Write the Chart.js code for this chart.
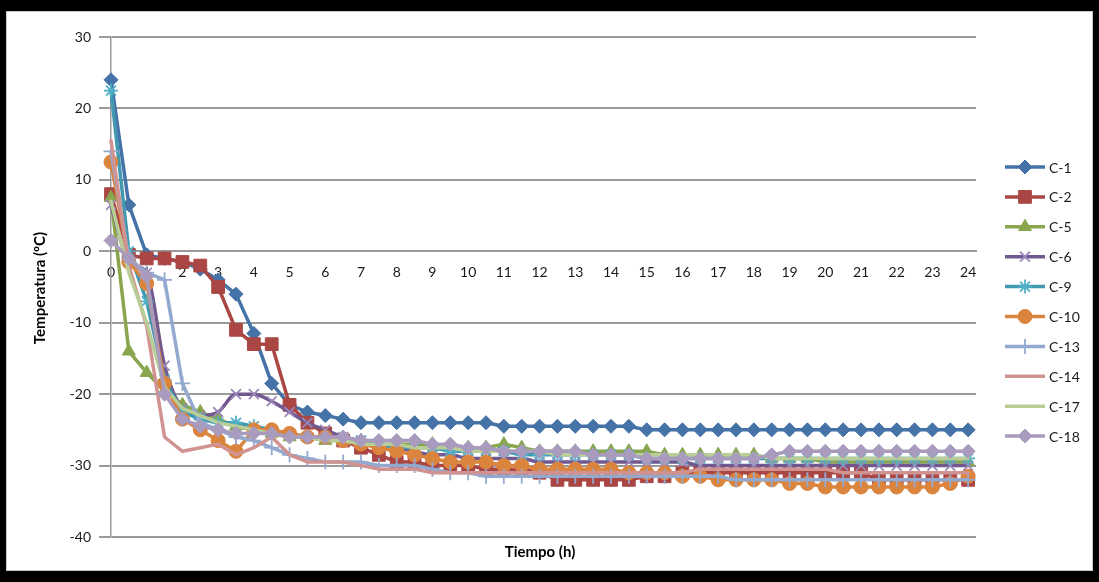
<!DOCTYPE html>
<html>
<head>
<meta charset="utf-8">
<script src="https://cdn.jsdelivr.net/npm/chart.js"></script>
<style>
  html, body { margin: 0; padding: 0; background: #000; }
  #wrap { position: absolute; left: 0; top: 0; width: 1099px; height: 582px; }
</style>
</head>
<body>
<div id="wrap"><canvas id="c" width="1099" height="582"></canvas></div>
<script>
// Time (h)
const times = [0,0.5,1,1.5,2,2.5,3,3.5,4,4.5,5,5.5,6,6.5,7,7.5,8,8.5,9,9.5,10,10.5,11,11.5,12,12.5,13,13.5,14,14.5,15,15.5,16,16.5,17,17.5,18,18.5,19,19.5,20,20.5,21,21.5,22,22.5,23,23.5,24];
const xTickLabels = [0,1,2,3,4,5,6,7,8,9,10,11,12,13,14,15,16,17,18,19,20,21,22,23,24];
const yTickLabels = [30,20,10,0,-10,-20,-30,-40];
const seriesNames = ['C-1','C-2','C-5','C-6','C-9','C-10','C-13','C-14','C-17','C-18'];

const c1  = [24,6.5,-0.5,-1,-1.5,-2.5,-4,-6,-11.5,-18.5,-21.5,-22.5,-23,-23.5,-24,-24,-24,-24,-24,-24,-24,-24,-24.5,-24.5,-24.5,-24.5,-24.5,-24.5,-24.5,-24.5,-25,-25,-25,-25,-25,-25,-25,-25,-25,-25,-25,-25,-25,-25,-25,-25,-25,-25,-25];
const c2  = [8,-0.5,-1,-1,-1.5,-2,-5,-11,-13,-13,-21.5,-24,-25.5,-26.5,-27.5,-28.5,-29.5,-29.5,-30,-30,-30,-30.5,-30.5,-30.5,-31,-32,-32,-32,-32,-32,-31.5,-31.5,-31,-31,-31,-31,-31,-31,-31,-31,-31,-31,-31,-32,-32,-32,-32,-32,-32];
const c5  = [7.5,-14,-17,-19.5,-21.5,-22.5,-23.5,-24.5,-25,-25.5,-26,-26,-26.5,-26.5,-26.5,-27,-27,-27,-27,-27.5,-27.5,-27.5,-27,-27.5,-28,-28,-28,-28,-28,-28,-28,-28.5,-28.5,-28.5,-28.5,-28.5,-28.5,-29,-29,-29,-29.5,-29.5,-29.5,-29.5,-29.5,-29.5,-29.5,-29.5,-29.5];
const c6  = [6.5,-1.5,-3,-16,-22,-23,-22.5,-20,-20,-21,-22.5,-24,-25,-26,-26.5,-27,-27.5,-28,-28.5,-28.5,-29,-29,-29,-29,-29.5,-29.5,-29.5,-29.5,-29.5,-29.5,-29.5,-29.5,-29.5,-30,-30,-30,-30,-30,-30,-30,-30,-30,-30,-30,-30,-30,-30,-30,-30];
const c9  = [22.5,0,-7,-18,-22.5,-23.5,-24,-24,-24.5,-25,-25.5,-26,-26,-26.5,-26.5,-27,-27.5,-27.5,-27.5,-28,-28,-28,-28,-28.5,-28.5,-28.5,-28.5,-28.5,-28.5,-28.5,-29,-29,-29,-29,-29,-29,-29,-29,-29,-29,-29,-29,-29,-29,-29,-29,-29,-29,-29];
const c10 = [12.5,-1.5,-4.5,-18.5,-23.5,-25,-26.5,-28,-25,-25,-25.5,-26,-26,-26.5,-27,-27.5,-28,-28.5,-29,-29.5,-29.5,-29.5,-30,-30,-30.5,-30.5,-30.5,-30.5,-30.5,-31,-31,-31,-31.5,-31.5,-32,-32,-32,-32,-32.5,-32.5,-33,-33,-33,-33,-33,-33,-33,-32.5,-31.5];
const c13 = [14,-1,-3,-4,-18.5,-24,-25,-26,-26.5,-27.5,-28.5,-29,-29.5,-29.5,-29.5,-30,-30,-30,-30.5,-31,-31,-31.5,-31.5,-31.5,-31.5,-31.5,-31.5,-31.5,-31.5,-31.5,-31.5,-31.5,-31.5,-31.5,-31.5,-32,-32,-32,-32,-32,-32,-32,-32,-32,-32,-32,-32,-32,-32];
const c14 = [15.5,-2,-10.5,-26,-28,-27.5,-27,-28.5,-27.5,-26,-28.5,-29.5,-29.5,-29.5,-30,-30.5,-30.5,-30.5,-31,-31,-31,-31,-31,-31,-31,-31,-31,-31,-31,-31,-31,-31,-31,-30.5,-30.5,-30.5,-30.5,-30.5,-30.5,-30.5,-30.5,-31,-31,-31,-31,-31,-31,-31,-31];
const c17 = [7,-3,-10,-19,-22,-23,-24,-24.5,-25,-25.5,-26,-26,-26.5,-26.5,-27,-27,-27,-27.5,-27.5,-27.5,-28,-28,-28,-28,-28,-28.5,-28.5,-28.5,-28.5,-28.5,-28.5,-28.5,-28.5,-28.5,-28.5,-28.5,-28.5,-29,-29,-29,-29,-29,-29,-29,-29,-29,-29,-29,-29];
const c18 = [1.5,-1,-3.5,-20,-23.5,-24.5,-25,-25.5,-25.5,-25.5,-26,-26,-26,-26,-26.5,-26.5,-26.5,-26.5,-27,-27,-27.5,-27.5,-28,-28,-28,-28,-28,-28.5,-28.5,-28.5,-29,-29,-29,-29,-29,-29,-29,-28.5,-28,-28,-28,-28,-28,-28,-28,-28,-28,-28,-28];

const seriesValues = [c1,c2,c5,c6,c9,c10,c13,c14,c17,c18];
const colors = ['#4572A7','#AA4643','#89A54E','#71588F','#4198AF','#DB843D','#93A9CF','#D19392','#B9CD96','#A99BBD'];
const pointColors = ['#4572A7','#AA4643','#89A54E','#9a88b8','#4fb0c8','#DB843D','#93A9CF','#D19392','#B9CD96','#A99BBD'];
const styles = ['rectRot','rect','triangle','crossRot','star','circle','cross','circle','circle','rectRot'];
const radii = [7,9,7.5,7,7,7,7.5,0,0,7];

const FONT = 'Lato, "Open Sans", "DejaVu Sans", sans-serif';

const datasets = seriesNames.map((name, i) => ({
  label: name,
  data: times.map((t, k) => ({x: t, y: seriesValues[i][k]})),
  borderColor: colors[i],
  backgroundColor: pointColors[i],
  pointBackgroundColor: pointColors[i],
  pointBorderColor: pointColors[i],
  pointBorderWidth: (styles[i] === 'crossRot' || styles[i] === 'star' || styles[i] === 'cross') ? 1.8 : 1,
  borderWidth: 3.5,
  pointStyle: styles[i],
  pointRadius: radii[i],
  tension: 0,
  cubicInterpolationMode: i === 3 ? 'monotone' : 'default',
  clip: false,
  order: -i
}));

const framePlugin = {
  id: 'frame',
  beforeDraw(chart) {
    const ctx = chart.ctx;
    ctx.save();
    ctx.fillStyle = '#000';
    ctx.fillRect(0, 0, 1099, 582);
    ctx.fillStyle = '#fff';
    ctx.fillRect(6, 11, 1087, 560);
    ctx.strokeStyle = '#c8c8c8';
    ctx.lineWidth = 1;
    ctx.strokeRect(6.5, 11.5, 1086, 559);
    ctx.restore();
  }
};

const extrasPlugin = {
  id: 'extras',
  afterDraw(chart) {
    const ctx = chart.ctx;
    ctx.save();
    ctx.fillStyle = '#000';
    ctx.font = 'bold 15px ' + FONT;
    ctx.textAlign = 'center';
    ctx.textBaseline = 'middle';
    ctx.fillText('Tiempo (h)', 540, 552);
    ctx.save();
    ctx.translate(40, 288);
    ctx.rotate(-Math.PI / 2);
    ctx.fillText('Temperatura (ºC)', 0, 0);
    ctx.restore();
    const dp = Chart.helpers && Chart.helpers.drawPoint;
    chart.data.datasets.forEach((ds, i) => {
      const y = 167 + i * 29.9;
      ctx.strokeStyle = ds.borderColor;
      ctx.lineWidth = 3.5;
      ctx.beginPath();
      ctx.moveTo(1005, y);
      ctx.lineTo(1045, y);
      ctx.stroke();
      if (ds.pointRadius > 0 && dp) {
        ctx.fillStyle = ds.pointBackgroundColor;
        ctx.strokeStyle = ds.pointBorderColor;
        ctx.lineWidth = ds.pointBorderWidth;
        dp(ctx, {pointStyle: ds.pointStyle, radius: ds.pointRadius, borderWidth: ds.pointBorderWidth, rotation: 0}, 1025, y);
      }
      ctx.fillStyle = '#1a1a1a';
      ctx.font = '14px ' + FONT;
      ctx.textAlign = 'left';
      ctx.textBaseline = 'middle';
      ctx.fillText(ds.label, 1049, y + 1);
    });
    ctx.restore();
  }
};

new Chart(document.getElementById('c'), {
  type: 'line',
  data: { datasets },
  options: {
    responsive: false,
    animation: false,
    devicePixelRatio: 1,
    layout: { padding: { left: 50, right: 123, top: 37, bottom: 45 } },
    plugins: { legend: { display: false }, tooltip: { enabled: false } },
    elements: { line: { borderJoinStyle: 'round', borderCapStyle: 'round' } },
    scales: {
      x: {
        type: 'linear',
        position: { y: 0 },
        min: 0,
        max: 24.22,
        afterBuildTicks(scale) {
          scale.ticks = xTickLabels.map(v => ({ value: v }));
        },
        grid: { display: false, drawTicks: false },
        border: { display: true, color: '#9a9a9a', width: 2 },
        ticks: {
          padding: 13,
          color: '#1a1a1a',
          font: { family: FONT, size: 14 },
          maxRotation: 0,
          autoSkip: false,
          callback: (v) => String(v)
        }
      },
      y: {
        type: 'linear',
        min: -40,
        max: 30,
        afterFit(scale) { scale.width = 61; },
        afterBuildTicks(scale) {
          scale.ticks = yTickLabels.map(v => ({ value: v }));
        },
        grid: { color: '#9a9a9a', lineWidth: 2, tickLength: 12, drawTicks: true },
        border: { display: true, color: '#9a9a9a', width: 1.5 },
        ticks: {
          padding: 8,
          color: '#1a1a1a',
          font: { family: FONT, size: 14 },
          callback: (v) => String(v)
        }
      }
    }
  },
  plugins: [framePlugin, extrasPlugin]
});
</script>
</body>
</html>
